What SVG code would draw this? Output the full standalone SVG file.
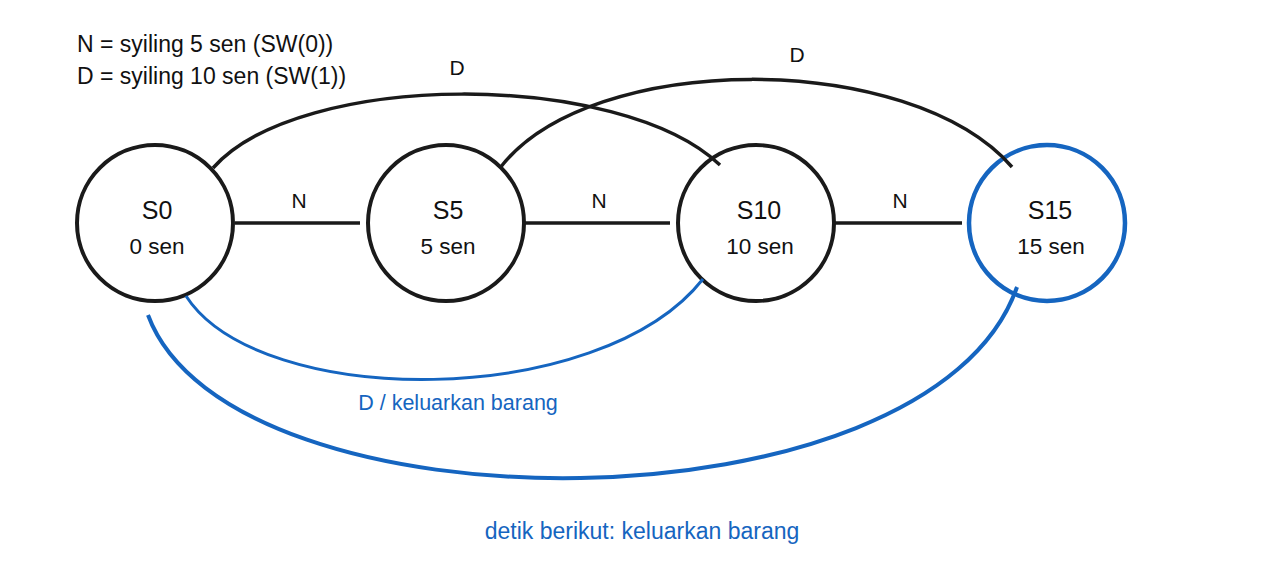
<svg xmlns="http://www.w3.org/2000/svg" width="1280" height="582" viewBox="0 0 1280 582">
<style>
text{font-family:"Liberation Sans",Arial,sans-serif;fill:#111}
.st{font-size:25px;text-anchor:middle}
.sv{font-size:22.5px;text-anchor:middle}
.lbl{font-size:21px;text-anchor:middle}
.leg{font-size:23px}
.blue{fill:#1565C0}
.node{fill:#fff;stroke:#1a1a1a;stroke-width:4}
.accept{fill:#fff;stroke:#1565C0;stroke-width:4.5}
.edge{fill:none;stroke:#1a1a1a;stroke-width:3.5}
.bedge{fill:none;stroke:#1565C0;stroke-width:3}
.bedge2{fill:none;stroke:#1565C0;stroke-width:4}
</style>
<rect width="1280" height="582" fill="#fff"/>
<g id="legend">
<text class="leg" x="77" y="52">N = syiling 5 sen (SW(0))</text>
<text class="leg" x="77" y="84">D = syiling 10 sen (SW(1))</text>
</g>
<g id="S0">
<circle class="node" cx="155" cy="223" r="78"/>
<text class="st" x="157" y="219">S0</text>
<text class="sv" x="157" y="254">0 sen</text>
</g>
<g id="S5">
<circle class="node" cx="446" cy="223" r="78"/>
<text class="st" x="448" y="219">S5</text>
<text class="sv" x="448" y="254">5 sen</text>
</g>
<g id="S10">
<circle class="node" cx="756" cy="223" r="78"/>
<text class="st" x="759" y="219">S10</text>
<text class="sv" x="760" y="254">10 sen</text>
</g>
<g id="S15">
<circle class="accept" cx="1047" cy="223" r="78"/>
<text class="st" x="1050" y="219">S15</text>
<text class="sv" x="1051" y="254">15 sen</text>
</g>
<g id="connectors">
<line class="edge" x1="235" y1="223" x2="360" y2="223"/>
<line class="edge" x1="525" y1="223" x2="670" y2="223"/>
<line class="edge" x1="835" y1="223" x2="962" y2="223"/>
<path class="edge" d="M213,168 C300,70 620,70 720,165"/>
<path class="edge" d="M500,168 C590,50 910,50 1012,167"/>
<path class="bedge" d="M186,296 C260,410 600,410 703,279"/>
<path class="bedge2" d="M148,315 C230,537 930,537 1017,287"/>
<text class="lbl" x="299" y="208">N</text>
<text class="lbl" x="599" y="208">N</text>
<text class="lbl" x="900" y="208">N</text>
<text class="lbl" x="457" y="75">D</text>
<text class="lbl" x="797" y="62">D</text>
<text class="sv blue" x="458" y="410" style="font-size:21.5px">D / keluarkan barang</text>
<text class="sv blue" x="642" y="539" style="font-size:23px">detik berikut: keluarkan barang</text>
</g>
</svg>
